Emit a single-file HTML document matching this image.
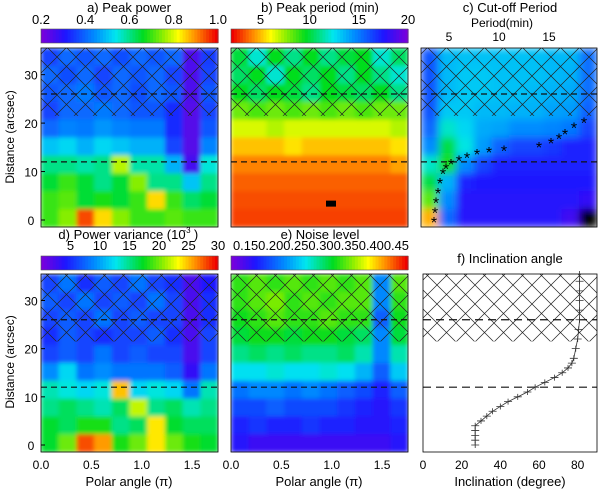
<!DOCTYPE html>
<html><head><meta charset="utf-8"><style>
body{margin:0;background:#fff}
svg text{font-family:"Liberation Sans",sans-serif;fill:#000}
</style></head><body>
<svg id="fig" width="600" height="489" viewBox="0 0 600 489" xmlns="http://www.w3.org/2000/svg">
<defs>
<filter id="bl" x="0" y="0" width="1" height="1"><feGaussianBlur stdDeviation="2.2"/></filter>
<filter id="bl2" x="0" y="0" width="1" height="1"><feGaussianBlur stdDeviation="4"/></filter>
<pattern id="hatch" width="19" height="19" patternUnits="userSpaceOnUse">
<path d="M0 0L19 19M19 0L0 19" stroke="#222" stroke-width="0.7" fill="none"/></pattern>
</defs>
</svg>
<script>
// ---- data ----
const aVals=[
[.36,.4,.38,.4,.37,.4,.38,.4,.25,.35],
[.4,.37,.4,.36,.4,.38,.4,.36,.25,.36],
[.38,.4,.42,.38,.4,.37,.4,.38,.25,.38],
[.36,.4,.4,.42,.4,.38,.38,.33,.24,.36],
[.4,.43,.42,.45,.43,.42,.42,.33,.24,.38],
[.5,.52,.48,.52,.5,.48,.48,.36,.24,.43],
[.6,.6,.58,.6,.78,.58,.58,.48,.26,.55],
[.65,.7,.65,.6,.65,.75,.6,.6,.5,.6],
[.7,.72,.65,.68,.65,.7,.85,.7,.62,.65],
[.7,.75,.95,.85,.75,.7,.7,.72,.7,.7]];
const bVals=[
[10,12,9.5,11,9.5,11,10,9.5,12,10.5],
[10.5,9.5,12,9.5,10.5,9.5,11,9.5,11,12],
[9.5,10.5,9.5,10,11,9.5,10,10.5,9.5,11],
[8,8.5,8,8.5,8,8.5,8,8.5,8,8],
[6.5,6.5,7,6.5,6.5,6.5,6.5,6.5,6.5,7],
[5,5,5,5.5,5,5,5,5,5,5.5],
[4,4,4,4,4,4,4,4,4,4.5],
[3.5,3.5,3.5,3.5,3.5,3.5,3.5,3.5,3.5,3.5],
[3.2,3.2,3.2,3.2,3.2,3.2,3.2,3.2,3.2,3.2],
[3,3,3,3,3,3,3,3,3,3]];
const cVals=[
[.22,.36,.37,.37,.37,.37,.37,.36,.36,.26],
[.22,.36,.38,.38,.37,.37,.37,.36,.35,.26],
[.22,.36,.38,.38,.37,.37,.36,.35,.34,.26],
[.22,.38,.38,.36,.36,.35,.35,.33,.32,.24],
[.25,.45,.4,.34,.33,.3,.3,.29,.27,.2],
[.3,.55,.43,.32,.24,.2,.2,.18,.15,.15],
[.45,.6,.3,.2,.15,.15,.15,.15,.15,.15],
[.55,.35,.15,.13,.13,.13,.13,.13,.13,.13],
[.65,.3,.12,.12,.12,.12,.12,.12,.12,.1],
[.85,.25,.12,.12,.12,.12,.12,.12,.08,0]];
const dVals=[
[6,8,5,7,6,8,6,5,2,4],
[7,6,8,6,7,6,8,6,2,5],
[6,7,6,8,6,7,6,6,2,5],
[5,7,6,5,6,6,7,5,2,6],
[6,7,6,8,6,7,6,6,2,6],
[9,12,8,9,8,8,8,7,3,8],
[14,13,12,13,25,12,13,12,8,14],
[15,16,15,14,16,22,15,16,14,15],
[17,16,18,18,15,16,24,17,16,16],
[17,20,28,26,18,20,24,20,18,17]];
const eVals=[
[.33,.34,.33,.34,.33,.34,.33,.34,.22,.34],
[.33,.34,.35,.33,.34,.33,.34,.34,.22,.33],
[.32,.33,.34,.33,.33,.34,.33,.33,.2,.32],
[.31,.32,.32,.31,.32,.32,.31,.3,.22,.31],
[.29,.3,.29,.3,.29,.29,.3,.28,.22,.28],
[.26,.26,.27,.26,.26,.27,.26,.24,.2,.25],
[.21,.22,.22,.21,.22,.21,.2,.19,.17,.2],
[.19,.19,.2,.19,.19,.19,.18,.17,.16,.18],
[.17,.18,.17,.17,.18,.17,.17,.16,.16,.17],
[.16,.15,.15,.15,.15,.15,.15,.15,.15,.16]];
const cutDist=[0,2,4,6,8,10,11,12,12.7,13.3,14,14.4,14.8,15.5,16.3,17.2,18.2,19.5,20.5];
const cutPer=[3.5,3.6,3.7,3.9,4.1,4.4,4.7,5.2,6,6.8,7.8,9,10.5,14,15.2,16,16.6,17.5,18.5];
const incDist=[0,1,2,3,4,5,6,7,8,9,10,11,12,13,14,15,16,17,18,20,22,24,26,28,30,32,34,35.5];
const incAng=[27,27,27,27,27,30,33,36,40,44,49,54,58,63,68,72,75,77,78,79,80,80.5,81,81,81,81,81,81];
const distTicks=[0,10,20,30];
const angTicks=[0,0.5,1.0,1.5];
const angLabels=["0.0","0.5","1.0","1.5"];
const incTicks=[0,20,40,60,80];
const perTicks=[5,10,15];
const aBar=["0.2","0.4","0.6","0.8","1.0"];
const bBar=[5,10,15,20];
const dBar=[5,10,15,20,25,30];
const eBar=[0.15,0.2,0.25,0.3,0.35,0.4,0.45];

const NS="http://www.w3.org/2000/svg",svg=document.getElementById('fig');
function mk(t,a,p){const e=document.createElementNS(NS,t);for(const k in a)e.setAttribute(k,a[k]);(p||svg).appendChild(e);return e;}
const stops=[[0,[120,0,220]],[0.13,[30,20,255]],[0.3,[0,140,255]],[0.42,[0,230,240]],[0.58,[0,220,30]],[0.7,[150,240,0]],[0.78,[255,255,0]],[0.88,[255,140,0]],[1,[240,0,0]]];
function cmap(v){v=Math.max(0,Math.min(1,v));for(let i=1;i<stops.length;i++){if(v<=stops[i][0]){const a=stops[i-1],b=stops[i],t=(v-a[0])/(b[0]-a[0]);return 'rgb('+a[1].map((c,j)=>Math.round(c+(b[1][j]-c)*t)).join(',')+')';}}return 'rgb(240,0,0)';}

const rowsY={top:[48,227],bot:[274,452]};
function yScale(top,d){return top[1]-7-(d)*((top[1]-7-top[0])/35.5);}
function drawHeat(name,vals,x0,x1,r,norm,blur){
  const g=mk('g',{filter:blur,});
  const nr=vals.length,nc=vals[0].length,cw=(x1-x0)/nc,ch=(r[1]-r[0])/nr;
  vals.forEach((row,i)=>row.forEach((v,j)=>{
    const c=mk('rect',{x:x0+j*cw,y:r[0]+i*ch,width:cw+0.5,height:ch+0.5,fill:v===0?'#000':cmap(norm(v))},g);
    
    
  }));
}
function frame(name,x0,x1,r,hatchTo){
  const hy=yScale(r,hatchTo);
  mk('rect',{x:x0,y:r[0],width:x1-x0,height:hy-r[0],fill:'url(#hatch)',});
  [26,12].forEach(d=>mk('line',{x1:x0,x2:x1,y1:yScale(r,d),y2:yScale(r,d),stroke:'#111','stroke-width':1.2,'stroke-dasharray':'6,4',}));
  mk('rect',{x:x0,y:r[0],width:x1-x0,height:r[1]-r[0],fill:'none',stroke:'#000','stroke-width':0.8,});
}
function txt(s,x,y,o){const t=mk('text',Object.assign({x:x,y:y,'font-size':12,'text-anchor':'middle'},o||{}));t.textContent=s;return t;}
function colorbar(name,x0,x1,y,rev){
  const g=mk('g',{});
  for(let i=0;i<60;i++){const v=i/59;mk('rect',{x:x0+i*(x1-x0)/60,y:y,width:(x1-x0)/60+0.6,height:14,fill:cmap(rev?1-v:v)},g);}
  mk('rect',{x:x0,y:y,width:x1-x0,height:14,fill:'none',stroke:'#555','stroke-width':0.6},g);
}
function yAxis(r,x0){distTicks.forEach(d=>{const y=yScale(r,d);txt(String(d),x0-10,y+5,{'font-size':12,});mk('line',{x1:x0,x2:x0+4,y1:y,y2:y,stroke:'#000'});});}

const T=rowsY.top,B=rowsY.bot;
// panel a
drawHeat('a',aVals,41,218,T,v=>(v-0.2)/0.8,'url(#bl)');
frame('a',41,218,T,21.5);
colorbar('colorbar-a',41,218,29,false);
txt('a) Peak power',129,12,{'font-size':13,});
aBar.forEach((s,i)=>txt(s,41+i*44.25,24,{'font-size':13,}));
yAxis(T,41);
// panel b
drawHeat('b',bVals,231,408,T,v=>1-(v-2)/18,'url(#bl)');
mk('rect',{x:326,y:yScale(T,4),width:10,height:6,fill:'#000',});
frame('b',231,408,T,21.5);
colorbar('colorbar-b',231,408,29,true);
txt('b) Peak period (min)',320,12,{'font-size':13,});
bBar.forEach(v=>txt(String(v),231+(v-2)*177/18,24,{'font-size':13,}));
// panel c
drawHeat('c',cVals,421,597,T,v=>v,'url(#bl2)');
frame('c',421,597,T,21.5);
const px=p=>421+(p-2.2)*176/17.6;
cutDist.forEach((d,i)=>{txt('*',px(cutPer[i]),yScale(T,d)+8,{'font-size':16,});});
txt('c) Cut-off Period',510,12,{'font-size':13,});
txt('Period(min)',502,27,{'font-size':12,});
perTicks.forEach(p=>txt(String(p),px(p),41,{}));
txt('Distance (arcsec)',14,137,{transform:'rotate(-90 14 137)','font-size':12,});
txt('Distance (arcsec)',14,362,{transform:'rotate(-90 14 362)','font-size':12,});
// panel d
drawHeat('d',dVals,41,218,B,v=>v/30,'url(#bl)');
frame('d',41,218,B,21.5);
colorbar('colorbar-d',41,218,256,false);
txt('d) Power variance (10',122,239,{'font-size':13,});
txt('-3',187,233,{'font-size':8,});
txt(')',196,239,{'font-size':13});
dBar.forEach(v=>txt(String(v),41+v*177/30,250,{'font-size':13,}));
yAxis(B,41);
// panel e
drawHeat('e',eVals,231,408,B,v=>(v-0.12)/0.34,'url(#bl)');
frame('e',231,408,B,21.5);
colorbar('colorbar-e',231,408,256,false);
txt('e) Noise level',320,239,{'font-size':13,});
txt(eBar.map(v=>v.toFixed(2)).join(''),321,250,{'font-size':13,textLength:176,lengthAdjust:'spacingAndGlyphs',});
[[41,'d'],[231,'e']].forEach(([x0,n])=>{angTicks.forEach((a,i)=>txt(angLabels[i],x0+a*100.7,469,{}));
  txt('Polar angle (π)',x0+88,486,{'font-size':13,});});
// panel f
mk('rect',{x:423,y:B[0],width:174,height:yScale(B,21.5)-B[0],fill:'url(#hatch)',});
[26,12].forEach(d=>mk('line',{x1:423,x2:597,y1:yScale(B,d),y2:yScale(B,d),stroke:'#111','stroke-width':1.2,'stroke-dasharray':'8,5',}));
mk('rect',{x:423,y:B[0],width:174,height:B[1]-B[0],fill:'none',stroke:'#000','stroke-width':0.8,});
const fx=a=>423+a*174/90;
mk('polyline',{points:incDist.map((d,i)=>fx(incAng[i])+','+yScale(B,d)).join(' '),fill:'none',stroke:'#333','stroke-width':0.8,});
incDist.forEach((d,i)=>{const x=fx(incAng[i]),y=yScale(B,d);
  const m=mk('path',{d:`M${x-4} ${y}H${x+4}M${x} ${y-3}V${y+3}`,stroke:'#333','stroke-width':0.8});
  
  });
txt('f) Inclination angle',510,263,{'font-size':13,});
incTicks.forEach(a=>txt(String(a),fx(a),469,{}));
txt('Inclination (degree)',510,486,{'font-size':13,});
</script>
</body></html>
